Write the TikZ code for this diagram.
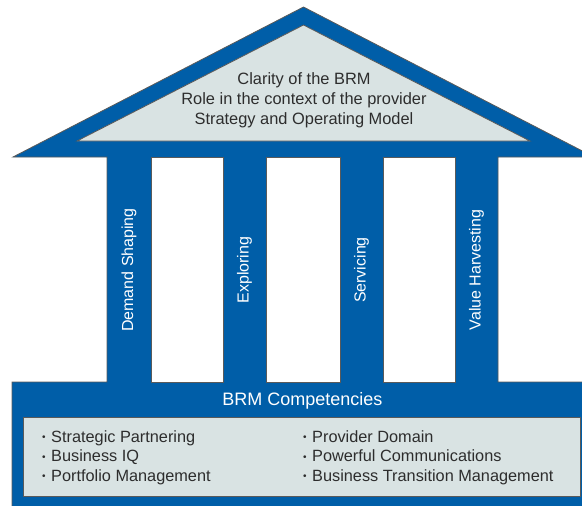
\documentclass[tikz,border=0pt]{standalone}
\usepackage{fontspec}
\setmainfont{Liberation Sans}
\usepackage{tikz}
\definecolor{brmblue}{RGB}{0,94,168}
\definecolor{brmlight}{RGB}{217,227,227}
\definecolor{brmline}{RGB}{90,90,90}
\definecolor{brmtext}{RGB}{45,45,45}
\newcommand{\bul}{{\fontsize{10}{10}\selectfont\raisebox{1.4pt}{•}}\hspace{5.5pt}}

\begin{document}
\begin{tikzpicture}[x=1pt,y=-1pt,
  outline/.style={draw=brmline,line width=0.8pt},
  pillarlabel/.style={rotate=90,text=white,inner sep=0pt,font=\fontsize{16}{16}\selectfont},
  listtext/.style={anchor=base west,align=left,inner sep=0pt,text=brmtext,font=\fontsize{16.3}{19.5}\selectfont}]
\useasboundingbox (0,0) rectangle (582,506);
\clip (0,0) rectangle (582,506);
\draw[outline,fill=brmblue] (13,157) -- (303.5,7) -- (594,157) -- (498,157) -- (498,382) -- (590,382)
  -- (590,515) -- (12,515) -- (12,382) -- (107,382) -- (107,157) -- cycle;
\draw[outline,fill=white] (151,157) rectangle (223,382);
\draw[outline,fill=white] (266,157) rectangle (340,382);
\draw[outline,fill=white] (383,157) rectangle (455,382);
\draw[outline,fill=brmlight] (77,141) -- (303.5,25) -- (530,141) -- cycle;
\draw[outline,fill=brmlight] (23,417) rectangle (580,496);
\node[anchor=base,align=center,inner sep=0pt,text=brmtext,font=\fontsize{16.4}{20}\selectfont] (clarity) at (304,124)
  {Clarity of the BRM\\Role in the context of the provider\\Strategy and Operating Model};
\node[pillarlabel] (demand) at (129,270) {Demand Shaping};
\node[pillarlabel] (exploring) at (244.5,270) {Exploring};
\node[pillarlabel] (servicing) at (361.5,270) {Servicing};
\node[pillarlabel] (harvesting) at (476.5,270) {Value Harvesting};
\node[anchor=base,inner sep=0pt,text=white,font=\fontsize{18}{18}\selectfont] (competencies) at (302.5,405.5) {BRM Competencies};
\node[listtext] (leftlist) at (42,481)
  {\bul Strategic Partnering\\\bul Business IQ\\\bul Portfolio Management};
\node[listtext] (rightlist) at (303,481)
  {\bul Provider Domain\\\bul Powerful Communications\\\bul Business Transition Management};
\end{tikzpicture}
\end{document}
